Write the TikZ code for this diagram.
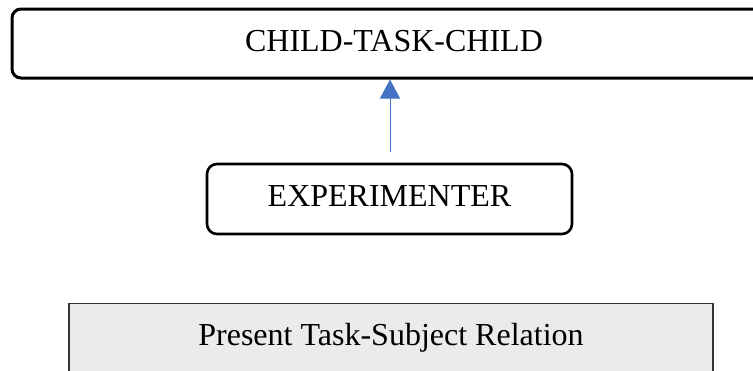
\documentclass[tikz,border=0pt]{standalone}
\usepackage{fontspec}
\setmainfont{Liberation Serif}
\usetikzlibrary{arrows.meta}
\definecolor{arrowblue}{HTML}{4472C4}
\definecolor{boxgray}{HTML}{EBEBEB}
\begin{document}
\begin{tikzpicture}[x=1pt,y=-1pt,
  txt/.style={font=\fontsize{32}{36}\selectfont, text height=22pt, text depth=7pt, inner sep=0pt, align=center},
  topbox/.style={txt, draw=black, line width=3pt, rounded corners=9pt, minimum width=764pt, minimum height=69pt},
  expbox/.style={txt, draw=black, line width=2.6pt, rounded corners=10pt, minimum width=365pt, minimum height=70pt},
  relbox/.style={txt, text depth=15pt, draw=black!80, fill=boxgray, line width=1.3pt, minimum width=644pt, minimum height=76pt},
  arr/.style={draw=arrowblue, line width=1pt, -{Triangle[length=19pt,width=20pt]}}
]
\useasboundingbox (0,0) rectangle (753,370);
\clip (0,0) rectangle (753,370);
\node[topbox] (top) at (394,43.5) {CHILD-TASK-CHILD};
\node[expbox] (exp) at (389.5,199) {EXPERIMENTER};
\node[relbox] (rel) at (391,341.5) {Present Task-Subject Relation};
\coordinate (tip) at (390,0);
\draw[arr] ([xshift=0.5pt,yshift=11pt]exp.north) -- (tip |- top.south);
\end{tikzpicture}
\end{document}
